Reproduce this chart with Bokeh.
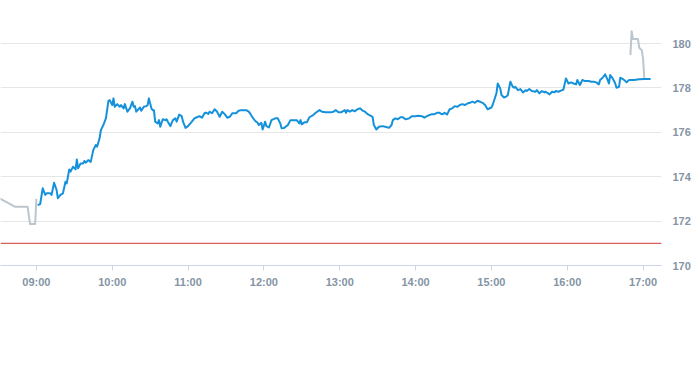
from bokeh.plotting import figure
from bokeh.models import Range1d, FixedTicker, Span
from bokeh.embed import file_html
from bokeh.resources import INLINE

# ---- data (minutes after 09:00, price) ----
session_minutes = [
    1, 3, 5, 7, 8, 11, 12, 14, 16, 17, 19, 21, 23, 24, 26, 27, 29, 31, 32, 33,
    35, 37, 38, 39, 41, 43, 45, 47, 48, 50, 51, 53, 55, 57, 58, 60, 61, 62, 64, 66,
    67, 69, 70, 72, 74, 76, 77, 78, 79, 82, 83, 85, 87, 88, 89, 91, 92, 93, 94, 96,
    97, 98, 100, 102, 103, 104, 106, 108, 110, 111, 113, 115, 116, 118, 120, 123, 125, 127, 129, 131,
    133, 134, 136, 137, 139, 141, 143, 145, 147, 149, 151, 153, 155, 158, 160, 162, 166, 168, 169, 171,
    173, 175, 176, 178, 179, 181, 182, 184, 186, 189, 191, 193, 194, 196, 199, 201, 204, 206, 208, 209,
    210, 212, 214, 216, 219, 221, 224, 226, 229, 233, 235, 237, 239, 241, 244, 245, 246, 248, 250, 252,
    254, 256, 258, 260, 262, 265, 266, 267, 269, 271, 274, 276, 279, 281, 282, 284, 286, 288, 290, 292,
    295, 297, 300, 302, 305, 307, 309, 311, 313, 315, 317, 319, 321, 323, 325, 327, 329, 331, 333, 335,
    337, 339, 341, 343, 345, 347, 349, 351, 353, 355, 357, 360, 361, 364, 365, 367, 368, 370, 372, 373,
    375, 377, 378, 379, 381, 383, 385, 387, 388, 390, 392, 395, 396, 398, 400, 402, 403, 406, 408, 410,
    411, 413, 416, 417, 419, 421, 423, 425, 427, 428, 430, 432, 434, 437, 439, 441, 443, 445, 446, 448,
    450, 452, 453, 454, 456, 458, 459, 461, 462, 464, 466, 467, 468, 469, 473, 477, 481, 486,
]
session_prices = [
    172.72, 172.77, 173.48, 173.18, 173.25, 173.25, 173.18, 173.73, 173.40, 173.03, 173.18, 173.25, 173.77, 173.70, 174.33, 174.23, 174.45, 174.33, 174.78, 174.38,
    174.60, 174.60, 174.71, 174.63, 174.75, 174.67, 175.20, 175.43, 175.35, 175.73, 176.10, 176.33, 176.63, 177.42, 177.45, 177.23, 177.53, 177.15, 177.27, 177.15,
    177.23, 177.08, 177.27, 176.93, 177.08, 177.38, 177.15, 177.18, 176.93, 177.12, 176.97, 177.15, 177.18, 177.23, 177.53, 177.08, 177.00, 177.00, 176.48, 176.40,
    176.55, 176.25, 176.59, 176.55, 176.59, 176.48, 176.28, 176.55, 176.63, 176.48, 176.80, 176.73, 176.48, 176.20, 176.28, 176.48, 176.63, 176.68, 176.73, 176.66,
    176.86, 176.89, 176.83, 176.93, 176.86, 177.04, 176.93, 176.70, 176.93, 176.82, 176.66, 176.70, 176.86, 176.86, 176.97, 177.00, 177.00, 176.93, 176.86, 176.68,
    176.52, 176.43, 176.33, 176.43, 176.13, 176.48, 176.28, 176.22, 176.55, 176.63, 176.63, 176.40, 176.18, 176.20, 176.33, 176.55, 176.55, 176.55, 176.40, 176.55,
    176.36, 176.45, 176.45, 176.68, 176.78, 176.88, 177.00, 176.93, 176.90, 176.90, 176.93, 177.00, 176.90, 176.90, 177.00, 176.88, 177.00, 176.93, 177.00, 176.95,
    177.04, 177.08, 176.98, 176.93, 176.82, 176.73, 176.70, 176.33, 176.13, 176.25, 176.28, 176.25, 176.20, 176.33, 176.55, 176.63, 176.59, 176.68, 176.68, 176.59,
    176.63, 176.73, 176.73, 176.75, 176.73, 176.66, 176.73, 176.78, 176.82, 176.82, 176.88, 176.88, 176.81, 176.88, 176.81, 177.04, 177.08, 177.18, 177.15, 177.23,
    177.27, 177.23, 177.30, 177.33, 177.38, 177.33, 177.42, 177.38, 177.33, 177.23, 177.04, 177.12, 177.23, 177.76, 178.20, 177.98, 177.68, 177.57, 177.62, 177.68,
    178.28, 178.05, 178.01, 178.05, 177.90, 177.95, 177.80, 177.90, 177.86, 177.95, 177.86, 177.83, 177.90, 177.76, 177.86, 177.80, 177.83, 177.71, 177.83, 177.80,
    177.86, 177.83, 177.90, 177.93, 178.43, 178.20, 178.25, 178.20, 178.16, 178.36, 178.13, 178.36, 178.31, 178.31, 178.28, 178.28, 178.25, 178.16, 178.36, 178.46,
    178.61, 178.36, 178.20, 178.58, 178.43, 178.20, 178.01, 178.05, 178.46, 178.40, 178.31, 178.25, 178.31, 178.36, 178.36, 178.39, 178.40, 178.40,
]
pre_minutes = [-30, -17, -7, -5, -1, 0]
pre_prices = [173.05, 172.65, 172.65, 171.87, 171.87, 173.00]
post_minutes = [470, 471, 472, 474, 476, 477, 479, 480, 481]
post_prices = [179.48, 180.56, 180.20, 180.20, 180.20, 179.81, 179.70, 179.33, 178.43]
previous_close = 171.0

tick_hours = [9, 10, 11, 12, 13, 14, 15, 16, 17]
tick_labels = ["09:00", "10:00", "11:00", "12:00", "13:00", "14:00", "15:00", "16:00", "17:00"]
y_ticks = [170, 172, 174, 176, 178, 180]

OPEN = 9 * 60
to_x = lambda ms: [OPEN + m for m in ms]

p = figure(width=693, height=365, output_backend="svg", toolbar_location=None,
           x_range=Range1d(511.6, 1034.6), y_range=Range1d(170, 181.94),
           y_axis_location="right",
           min_border_left=0, min_border_right=30, min_border_top=0, min_border_bottom=100)
p.outline_line_color = None
p.background_fill_color = "white"
p.border_fill_color = "white"

LABEL_COLOR = "#8594a5"
FONT = "Liberation Sans"

xa = p.xaxis[0]
xa.ticker = FixedTicker(ticks=[h * 60 for h in tick_hours])
xa.major_label_overrides = {h * 60: lab for h, lab in zip(tick_hours, tick_labels)}
xa.axis_line_color = "#ccd6eb"
xa.major_tick_line_color = "#ccd6eb"
xa.major_tick_out = 5
xa.major_tick_in = 0
xa.minor_tick_line_color = None
xa.major_label_standoff = 5
xa.major_label_text_font = FONT
xa.major_label_text_font_size = "11px"
xa.major_label_text_font_style = "bold"
xa.major_label_text_color = LABEL_COLOR

ya = p.yaxis[0]
ya.ticker = FixedTicker(ticks=y_ticks)
ya.axis_line_color = None
ya.major_tick_line_color = None
ya.minor_tick_line_color = None
ya.major_tick_out = 0
ya.major_tick_in = 0
ya.major_label_standoff = 11
ya.major_label_text_font = FONT
ya.major_label_text_font_size = "11px"
ya.major_label_text_font_style = "bold"
ya.major_label_text_color = LABEL_COLOR

p.xgrid.visible = False
p.ygrid.grid_line_color = "#e6e6e6"

p.add_layout(Span(location=previous_close, dimension="width", line_color="#cc3b2e", line_width=1))

p.line(to_x(pre_minutes), pre_prices, line_color="#bcc6ce", line_width=2, line_join="round")
p.line(to_x(post_minutes), post_prices, line_color="#bcc6ce", line_width=2, line_join="round")
p.line(to_x(session_minutes), session_prices, line_color="#1591db", line_width=2, line_join="round")

open("out.html", "w").write(file_html(p, INLINE))
